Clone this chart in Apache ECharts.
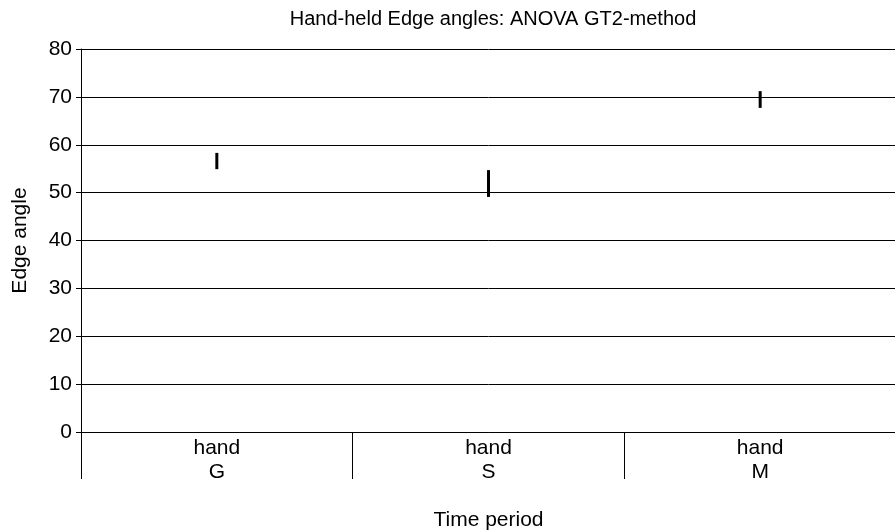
<!DOCTYPE html>
<html>
<head>
<meta charset="utf-8">
<title>Hand-held Edge angles</title>
<script src="https://cdn.jsdelivr.net/npm/echarts@6/dist/echarts.min.js"></script>
<style>
  html, body { margin: 0; padding: 0; background: #fff; }
  #box { width: 895px; height: 531px; }
</style>
</head>
<body>
<div id="box"></div>
<script>
// categories (time period)
var categories = ['hand\nG', 'hand\nS', 'hand\nM'];
// interval low / high for each category
var lowVals = [54.9, 49.1, 67.7];
var highVals = [58.3, 54.7, 71.2];
var yTicks = [0, 10, 20, 30, 40, 50, 60, 70, 80];

var font = 'Liberation Sans, Arial, sans-serif';

var barData = categories.map(function (c, i) {
    return [i, lowVals[i], highVals[i]];
});

var myChart = echarts.init(document.getElementById('box'));
var option = {
    animation: false,
    title: {
        text: 'Hand-held Edge angles: ANOVA GT2-method',
        left: 488,
        textAlign: 'center',
        top: 4,
        textStyle: { fontFamily: font, fontSize: 20, fontWeight: 'normal', color: '#000' }
    },
    grid: { left: 81, right: -1, top: 49, bottom: 99, outerBoundsMode: 'none', containLabel: false },
    xAxis: {
        type: 'category',
        data: categories,
        boundaryGap: true,
        name: 'Time period',
        nameLocation: 'middle',
        nameGap: 78,
        nameTextStyle: { fontFamily: font, fontSize: 21, color: '#000' },
        axisLine: { lineStyle: { color: '#000', width: 1 } },
        axisTick: { show: true, interval: 0, alignWithLabel: false, length: 47, lineStyle: { color: '#000' } },
        axisLabel: { interval: 0, margin: 4, fontFamily: font, fontSize: 21, lineHeight: 24, color: '#000' },
        splitLine: { show: false }
    },
    yAxis: {
        type: 'value',
        min: yTicks[0],
        max: yTicks[yTicks.length - 1],
        interval: 10,
        name: 'Edge angle',
        nameLocation: 'middle',
        nameGap: 50,
        nameTextStyle: { fontFamily: font, fontSize: 21, color: '#000' },
        axisLine: { show: true, lineStyle: { color: '#000' } },
        axisTick: { show: true, length: 5, lineStyle: { color: '#000' } },
        axisLabel: { margin: 9, fontFamily: font, fontSize: 21, color: '#000' },
        splitLine: { show: true, lineStyle: { color: '#000', width: 1 } }
    },
    series: [{
        type: 'custom',
        data: barData,
        renderItem: function (params, api) {
            var lo = api.coord([api.value(0), api.value(1)]);
            var hi = api.coord([api.value(0), api.value(2)]);
            return {
                type: 'line',
                shape: { x1: lo[0], y1: lo[1], x2: hi[0], y2: hi[1] },
                style: { stroke: '#000', lineWidth: 3 }
            };
        },
        z: 5
    }]
};
myChart.setOption(option);
</script>
</body>
</html>
